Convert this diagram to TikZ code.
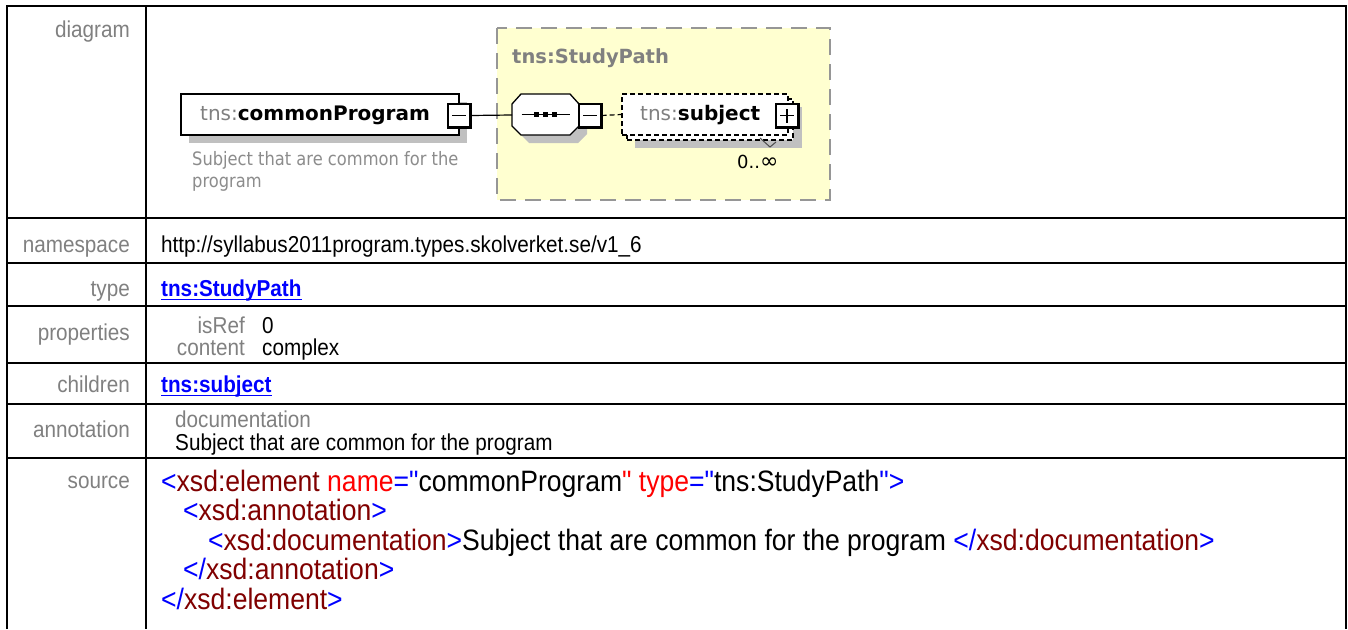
\documentclass[tikz,border=0pt]{standalone}
\usepackage{fontspec}
\setmainfont{Liberation Sans}[FakeStretch=0.9]
\newfontfamily\srcfont{Liberation Sans}[FakeStretch=0.9, Ligatures=TeXOff]
\newfontfamily\diafont{DejaVu Sans}
\newfontfamily\annfont{DejaVu Sans}[FakeStretch=0.88]
\definecolor{labgray}{RGB}{128,128,128}
\definecolor{anngray}{RGB}{140,140,140}
\definecolor{shadowc}{RGB}{192,192,192}
\definecolor{yfill}{RGB}{255,255,208}
\definecolor{ydash}{RGB}{150,150,150}
\definecolor{linkblue}{RGB}{0,0,255}
\definecolor{tagc}{RGB}{0,0,255}
\definecolor{namec}{RGB}{128,0,0}
\definecolor{attrc}{RGB}{255,0,0}
\tikzset{
  tbl/.style={line width=1.6pt, black},
  lab/.style={anchor=base east, inner sep=0pt, text=labgray, font=\fontsize{23}{27}\selectfont},
  val/.style={anchor=base west, inner sep=0pt, text=black, font=\fontsize{23}{27}\selectfont},
  link/.style={anchor=base west, inner sep=0pt, text=linkblue, font=\fontsize{23}{27}\selectfont\bfseries},
  src/.style={anchor=base west, inner sep=0pt, text=black, font=\srcfont\fontsize{29.5}{34}\selectfont},
  dtext/.style={anchor=base west, inner sep=0pt, font=\diafont\fontsize{20}{24}\selectfont},
  anntext/.style={anchor=base west, inner sep=0pt, text=anngray, font=\annfont\fontsize{18.5}{22}\selectfont},
  pmbox/.style={draw=black, line width=1.2pt, fill=white, minimum width=22pt, minimum height=23pt, inner sep=0pt},
  elbox/.style={draw=black, line width=1.4pt, fill=white, minimum width=278pt, minimum height=41pt, inner sep=0pt},
  dashbox/.style={draw=black, line width=1.2pt, dash pattern=on 5pt off 3pt, fill=white, minimum width=166pt, minimum height=41pt, inner sep=0pt},
  shadowbox/.style={fill=shadowc, draw=none, inner sep=0pt},
  conn/.style={line width=1.2pt, black},
}
\begin{document}
\begin{tikzpicture}[x=1pt,y=-1pt]
\useasboundingbox (0,0) rectangle (1348,629);
\fill[white] (0,0) rectangle (1348,629);

% ---------- table frame ----------
\draw[tbl] (7,629) -- (7,6) -- (1346,6) -- (1346,629);
\draw[tbl] (146,6) -- (146,629);
\foreach \yy in {218,263,306,363,404,458} {
  \draw[tbl] (7,\yy) -- (1346,\yy);
}

% ---------- row labels ----------
\node[lab] (ldiag) at (130,37) {diagram};
\node[lab] (lns) at (130,252) {namespace};
\node[lab] (ltype) at (130,296) {type};
\node[lab] (lprop) at (130,340) {properties};
\node[lab] (lchild) at (130,392) {children};
\node[lab] (lann) at (130,437) {annotation};
\node[lab] (lsrc) at (130,488) {source};

% ---------- values ----------
\node[val] (ns) at (161,252) {http://syllabus2011program.types.skolverket.se/v1\_6};
\node[link] (typelink) at (161,296) {tns:StudyPath};
\draw[linkblue, line width=1.6pt] ([yshift=-3.5pt]typelink.base west) -- ([yshift=-3.5pt]typelink.base east);
\node[lab] (pisref) at (245,333) {isRef};
\node[val] (visref) at (262,333) {0};
\node[lab] (pcontent) at (245,355) {content};
\node[val] (vcontent) at (262,355) {complex};
\node[link] (childlink) at (161,392) {tns:subject};
\draw[linkblue, line width=1.6pt] ([yshift=-3.5pt]childlink.base west) -- ([yshift=-3.5pt]childlink.base east);
\node[lab, anchor=base west] (adoc) at (175,427) {documentation};
\node[val] (atext) at (175,450) {Subject that are common for the program};

% ---------- source ----------
\node[src] (s1) at (161,491) {\textcolor{tagc}{<}\textcolor{namec}{xsd:element} \textcolor{attrc}{name}\textcolor{tagc}{="}commonProgram\textcolor{attrc}{"} \textcolor{attrc}{type}\textcolor{tagc}{="}tns:StudyPath\textcolor{tagc}{">}};
\node[src] (s2) at (183,520.5) {\textcolor{tagc}{<}\textcolor{namec}{xsd:annotation}\textcolor{tagc}{>}};
\node[src] (s3) at (208,550) {\textcolor{tagc}{<}\textcolor{namec}{xsd:documentation}\textcolor{tagc}{>}Subject that are common for the program \textcolor{tagc}{</}\textcolor{namec}{xsd:documentation}\textcolor{tagc}{>}};
\node[src] (s4) at (183,579.5) {\textcolor{tagc}{</}\textcolor{namec}{xsd:annotation}\textcolor{tagc}{>}};
\node[src] (s5) at (161,609) {\textcolor{tagc}{</}\textcolor{namec}{xsd:element}\textcolor{tagc}{>}};

% ---------- diagram ----------
% complex type container
\draw[fill=yfill, draw=ydash, line width=1.5pt, dash pattern=on 16pt off 9pt] (497,28) rectangle (830,200);
\node[dtext, text=labgray, font=\diafont\fontsize{19.5}{23}\selectfont\bfseries] (sptitle) at (512,63) {tns:StudyPath};

% element commonProgram
\node[shadowbox, minimum width=278pt, minimum height=41pt] (cpsh) at (328,122.5) {};
\node[elbox] (cp) at (320,114.5) {};
\node[dtext] (cptext) at (200,120) {\textcolor{labgray}{tns:}\textbf{commonProgram}};
\node[anntext] (cpann1) at (192,165) {Subject that are common for the};
\node[anntext] (cpann2) at (192,187) {program};
\node[pmbox] (cpm) at (459,115.5) {};
\draw[line width=2.6pt] ([xshift=0.3pt]cpm.north east) -- ([xshift=0.3pt,yshift=-0.3pt]cpm.south east) -- ([yshift=-0.3pt]cpm.south west);
\draw[line width=1.2pt] ([xshift=-7pt]cpm.center) -- ([xshift=7pt]cpm.center);

% sequence compositor (octagon)
\fill[shadowc] (520,112) -- (529,102) -- (578,102) -- (587,112) -- (587,134) -- (578,143) -- (529,143) -- (520,134) -- cycle;
\draw[line width=1.3pt, fill=white] (512,104) -- (521,94) -- (570,94) -- (579,104) -- (579,126) -- (570,135) -- (521,135) -- (512,126) -- cycle;
\coordinate (seqW) at (512,115);
\coordinate (seqC) at (545.5,114.5);
\draw[line width=1.2pt] ([xshift=-24pt]seqC) -- ([xshift=24pt]seqC);
\foreach \dx in {-9,0,9} {
  \fill[black] ([xshift=\dx pt]seqC) ++(-2.6,-2.6) rectangle ++(5.2,5.2);
}
\node[pmbox] (seqm) at (590,115.5) {};
\draw[line width=2.6pt] ([xshift=0.3pt]seqm.north east) -- ([xshift=0.3pt,yshift=-0.3pt]seqm.south east) -- ([yshift=-0.3pt]seqm.south west);
\draw[line width=1.2pt] ([xshift=-7pt]seqm.center) -- ([xshift=7pt]seqm.center);

% element subject (0..unbounded)
\node[shadowbox, minimum width=167pt, minimum height=41pt] (subjsh) at (718.5,127.5) {};
\node[dashbox] (subjback) at (710,119.5) {};
\node[dashbox] (subj) at (705,114.5) {};
\node[dtext] (subjtext) at (640,120) {\textcolor{labgray}{tns:}\textbf{subject}};
\node[pmbox] (subjp) at (787,115.5) {};
\draw[line width=2.6pt] ([xshift=0.3pt]subjp.north east) -- ([xshift=0.3pt,yshift=-0.3pt]subjp.south east) -- ([yshift=-0.3pt]subjp.south west);
\draw[line width=1.2pt] ([xshift=-7pt]subjp.center) -- ([xshift=7pt]subjp.center);
\draw[line width=1.2pt] ([yshift=-7pt]subjp.center) -- ([yshift=7pt]subjp.center);
\draw[line width=1pt, black!70] (760,138) -- (770,147) -- (776,142);
\node[dtext, font=\diafont\fontsize{18}{22}\selectfont] (mult) at (737,168) {0..\fontsize{22}{22}\selectfont∞};

% connectors
\draw[conn] (cpm.east) -- (seqW);
\draw[conn, dash pattern=on 5pt off 3pt] (seqm.east) -- (subj.west);
\end{tikzpicture}
\end{document}
